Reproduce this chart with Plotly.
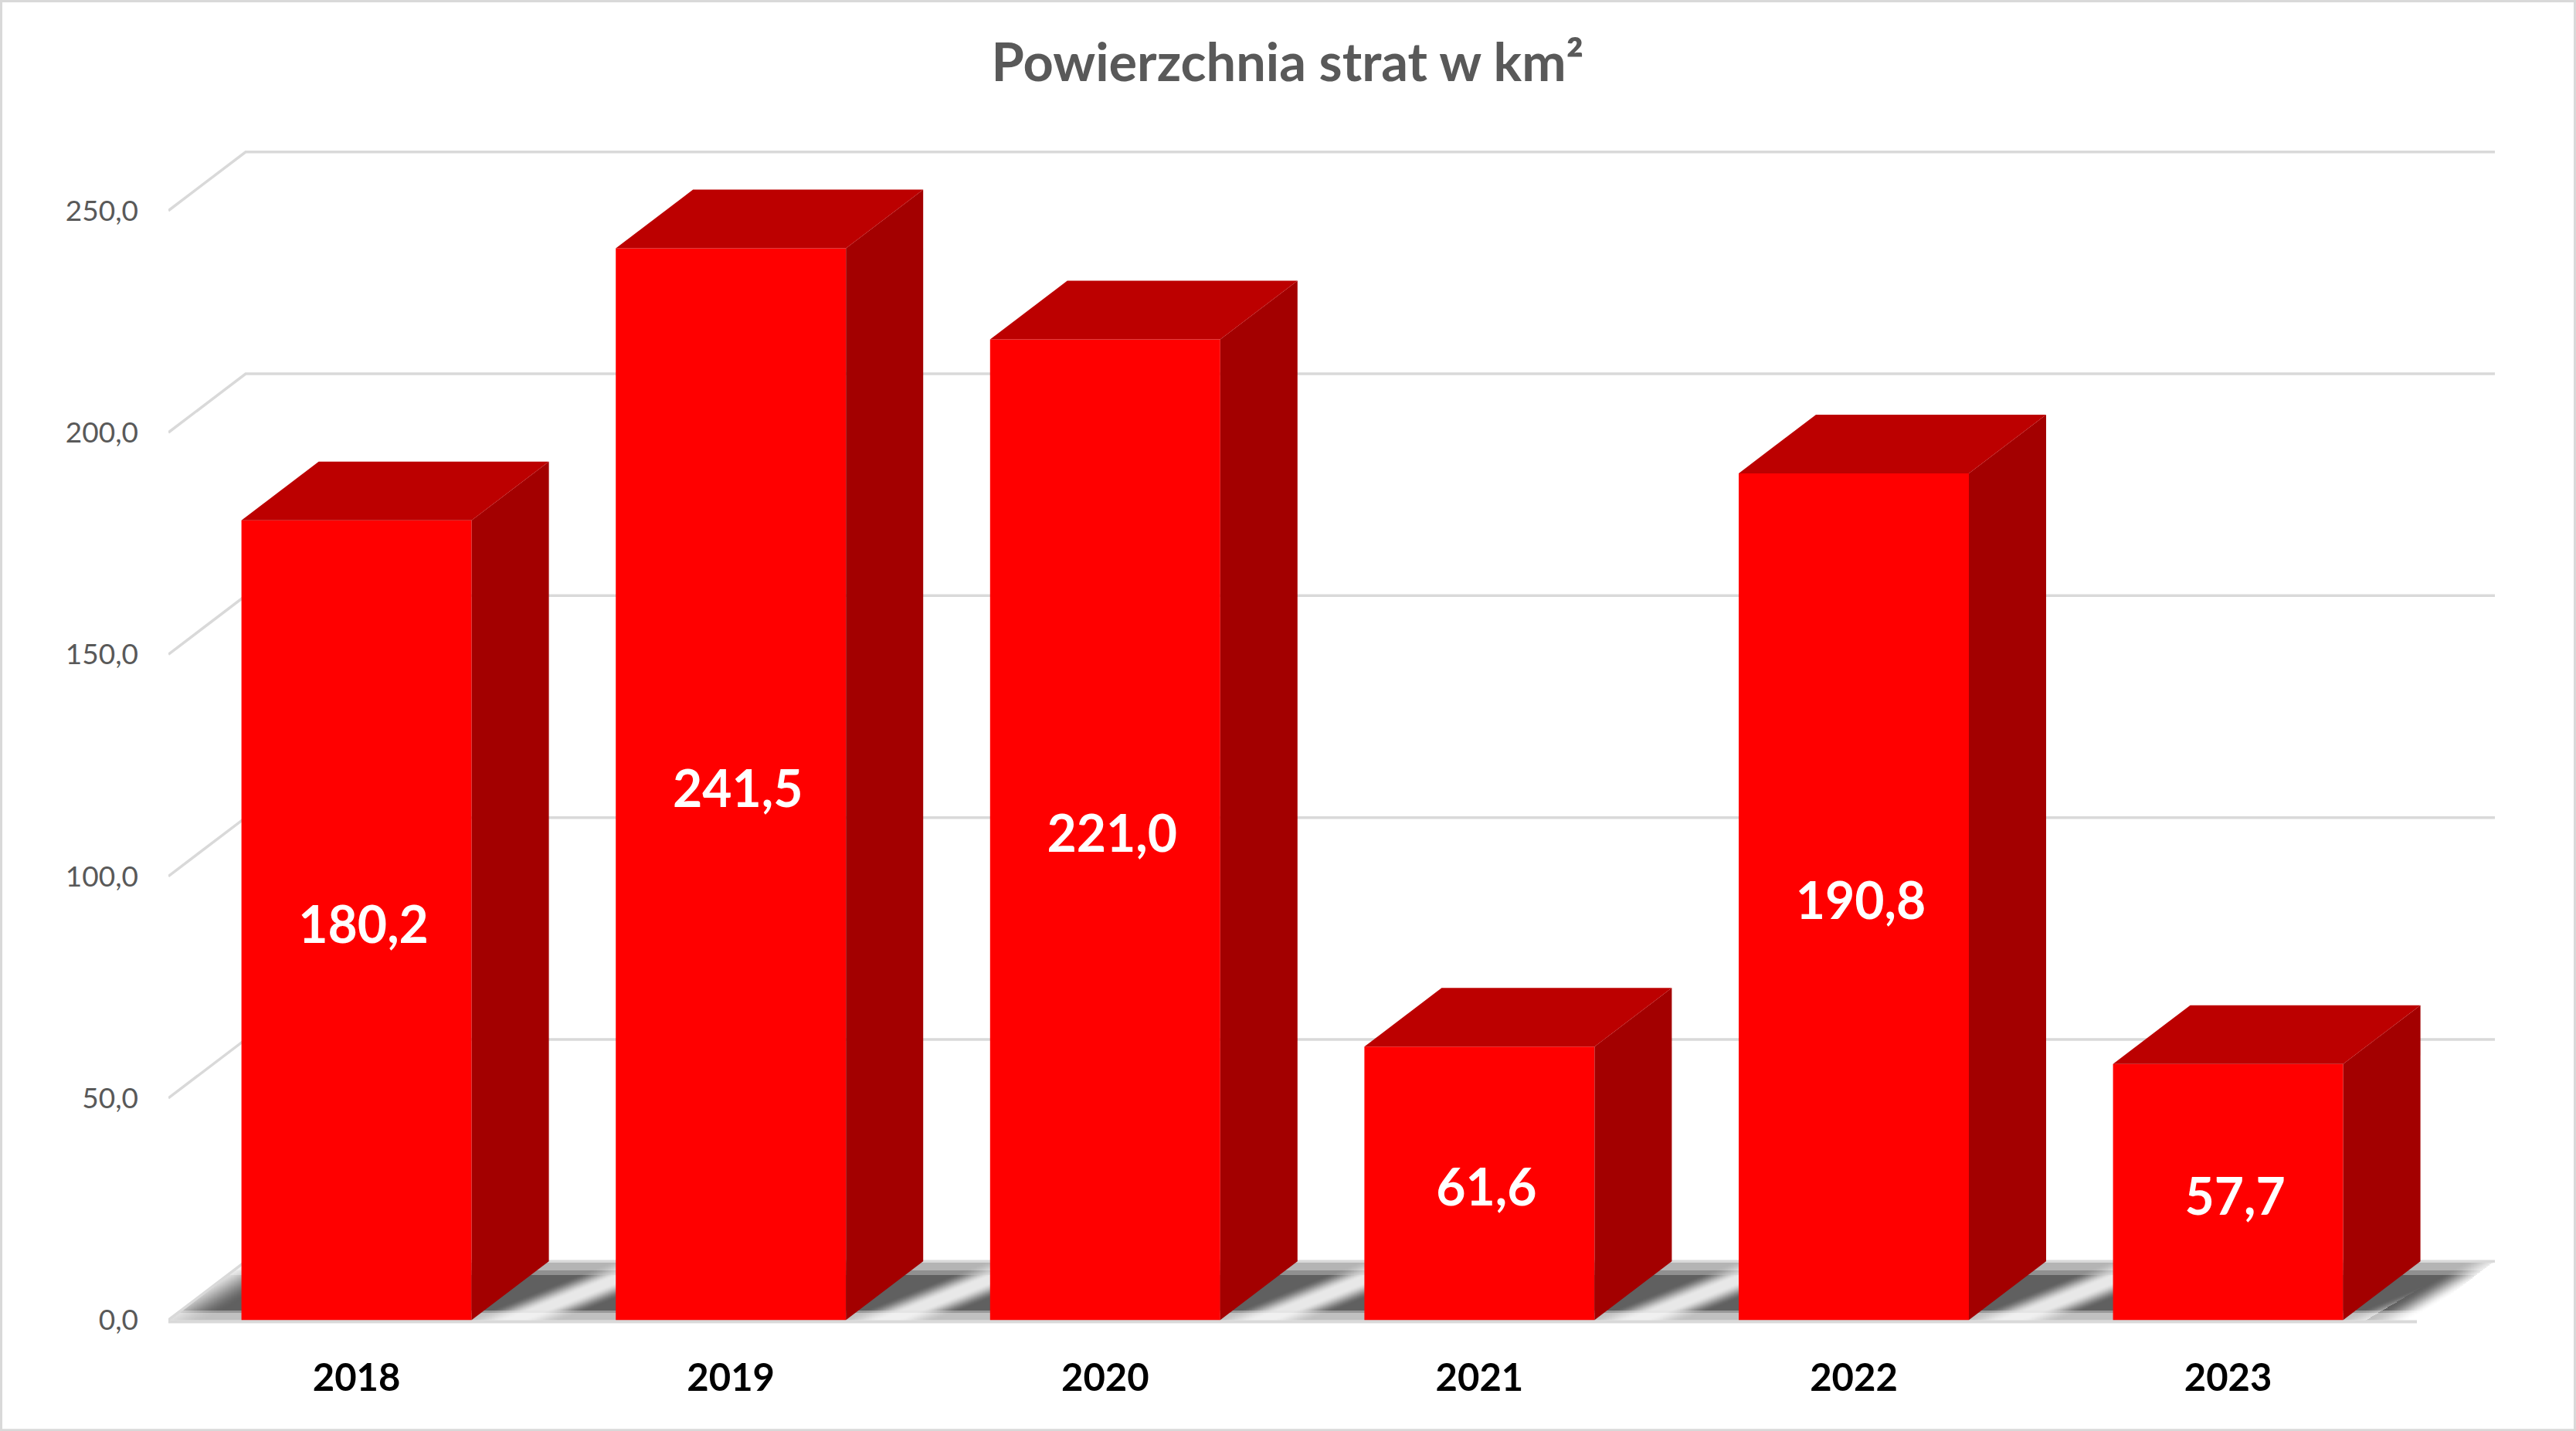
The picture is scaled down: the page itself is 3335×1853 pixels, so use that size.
import numpy as np
import plotly.graph_objects as go

# ---- data ----
years = ["2018", "2019", "2020", "2021", "2022", "2023"]
losses = [180.2, 241.5, 221.0, 61.6, 190.8, 57.7]
y_ticks = [0, 50, 100, 150, 200, 250]
chart_title = "Powierzchnia strat w km²"

# ---- styling / geometry ----
FONT = "Lato"
W, H = 3335, 1853
px_per_x = 484.6        # pixels per category step
px_per_y = 5.745        # pixels per km²
left_px, right_px = 218.0, 3230.0
first_bar_px = 461.6
zero_px = 1709.0
bar_w = 298.0 / px_per_x
dx = 100.0 / px_per_x   # 3-D depth along x
dy = 76.0 / px_per_y    # 3-D depth along y
x_rng = [(left_px - first_bar_px) / px_per_x, (right_px - first_bar_px) / px_per_x]
y_rng = [-1.0, max(y_ticks) + dy + 1.0]
m_top = zero_px - y_rng[1] * px_per_y
m_bot = H - (zero_px - y_rng[0] * px_per_y)
front_right = (3129.0 - first_bar_px) / px_per_x

GRID = "#D9D9D9"
FRONT, SIDE, TOP = "#FF0000", "#A30000", "#BC0000"
xs = np.array(range(len(years)), dtype=float)

fig = go.Figure()

# ---- floor shading (decorative reflection on the chart floor) ----
fx = np.arange(x_rng[0], x_rng[1], 2.0 / px_per_x)
fy = np.arange(0, dy + 0.01, 1.0 / px_per_y)
X, Yf = np.meshgrid(fx, fy)
T = Yf / dy
U = X - 0.392 * T
c0 = 0.42
D = np.abs((U - c0) - np.round(U - c0))
def sstep(a, b, v):
    s = np.clip((v - a) / (b - a), 0, 1)
    return s * s * (3 - 2 * s)
L = 1 - sstep(0.02, 0.13, D)
py = 76 * T  # pixels above the floor front
lo = np.full_like(T, 0x60, dtype=float)
hi = np.full_like(T, 0xE8, dtype=float)
lo[py < 13] = 0x98; hi[py < 13] = 0xE4
lo[py < 10] = 0xC0; hi[py < 10] = 0xF0
lo[py > 58] = 0x90; hi[py > 58] = 0xDC
lo[py > 64] = 0xB4; hi[py > 64] = 0xEC
G = lo + (hi - lo) * L
# at both ends of the floor the shading fades out to white
U2 = X - 1.7 * 76 / px_per_x * T
dark = lo
left_fade = sstep((170 - first_bar_px) / px_per_x, (268 - first_bar_px) / px_per_x, U2)
right_fade = 1 - sstep((3063 - first_bar_px) / px_per_x, (3120 - first_bar_px) / px_per_x, U2)
inner = (U > c0 - 1) & (U < c0 - 1 + 0.5)
G = np.where(U2 < (268 - first_bar_px) / px_per_x, 255 - (255 - dark) * left_fade, G)
G = np.where(U2 > (3063 - first_bar_px) / px_per_x, 255 - (255 - dark) * right_fade, G)
# clip to the floor parallelogram
mask = (X < x_rng[0] + dx * T) | (X > front_right + dx * T)
G[mask] = 255
fig.add_trace(go.Heatmap(x=fx, y=fy, z=G, zmin=0, zmax=255, showscale=False,
                         colorscale=[[0, "#000000"], [1, "#FFFFFF"]],
                         hoverinfo="skip"))

# ---- 3-D gridlines ----
for t in y_ticks:
    fig.add_trace(go.Scatter(
        x=[x_rng[0], x_rng[0] + dx, x_rng[1]], y=[t, t + dy, t + dy],
        mode="lines", line=dict(color=GRID, width=3.5), hoverinfo="skip",
        showlegend=False, cliponaxis=False))
fig.add_trace(go.Scatter(
    x=[x_rng[0], front_right], y=[-0.4, -0.4],
    mode="lines", line=dict(color=GRID, width=4), hoverinfo="skip",
    showlegend=False, cliponaxis=False))

# ---- bars ----
fig.add_trace(go.Bar(x=xs, y=losses, width=bar_w, marker=dict(color=FRONT, line=dict(width=0)),
                     hoverinfo="skip", showlegend=False, zorder=1))
for xc, v in zip(xs, losses):
    xr = xc + bar_w / 2
    xl = xc - bar_w / 2
    fig.add_trace(go.Scatter(
        x=[xr, xr + dx, xr + dx, xr, xr], y=[0, dy, v + dy, v, 0], mode="lines",
        fill="toself", fillcolor=SIDE, line=dict(width=0, color=SIDE), hoverinfo="skip",
        showlegend=False, zorder=1))
    fig.add_trace(go.Scatter(
        x=[xl, xr, xr + dx, xl + dx, xl], y=[v, v, v + dy, v + dy, v], mode="lines",
        fill="toself", fillcolor=TOP, line=dict(width=0, color=TOP), hoverinfo="skip",
        showlegend=False, zorder=1))

# ---- value labels ----
fig.add_trace(go.Scatter(
    x=xs + 9.0 / px_per_x, y=[v / 2 - 2.2 for v in losses], mode="text",
    text=[f"{v:.1f}".replace(".", ",") for v in losses],
    textposition="middle center",
    textfont=dict(family=FONT, size=66, color="#FFFFFF", weight="bold"),
    hoverinfo="skip", showlegend=False, zorder=2))

# ---- frame ----
pw = right_px - left_px
ph = H - m_top - m_bot
frame = dict(type="rect", xref="paper", yref="paper",
             x0=(1.5 - left_px) / pw, x1=(W - 1.5 - left_px) / pw,
             y0=-(m_bot - 1.5) / ph, y1=1 + (m_top - 1.5) / ph,
             line=dict(color=GRID, width=3), fillcolor="rgba(0,0,0,0)", layer="below")

fig.update_layout(
    width=W, height=H, autosize=False,
    margin=dict(l=left_px, r=W - right_px, t=m_top, b=m_bot, pad=0),
    paper_bgcolor="#FFFFFF", plot_bgcolor="#FFFFFF",
    separators=", ", showlegend=False, barmode="overlay",
    font=dict(family=FONT),
    title=dict(text=chart_title, x=1667.0 / W, xanchor="center", xref="container",
               y=1 - 81.0 / H, yanchor="middle",
               font=dict(family=FONT, size=68.5, color="#595959", weight="bold")),
    xaxis=dict(range=x_rng, tickmode="array", tickvals=list(xs), ticktext=years,
               showgrid=False, zeroline=False, showline=False, ticks="",
               ticklabelstandoff=36,
               tickfont=dict(family=FONT, size=49, color="#000000", weight="bold"),
               fixedrange=True, automargin=False),
    yaxis=dict(range=y_rng, tickmode="array", tickvals=y_ticks, tickformat=".1f",
               showgrid=False, zeroline=False, showline=False, ticks="",
               ticklabelstandoff=38,
               tickfont=dict(family=FONT, size=37, color="#595959"),
               fixedrange=True, automargin=False),
    shapes=[frame],
)
fig.write_html("out.html", config={"displayModeBar": False},
               post_script="document.body.style.margin='0';document.body.style.overflow='hidden';")
